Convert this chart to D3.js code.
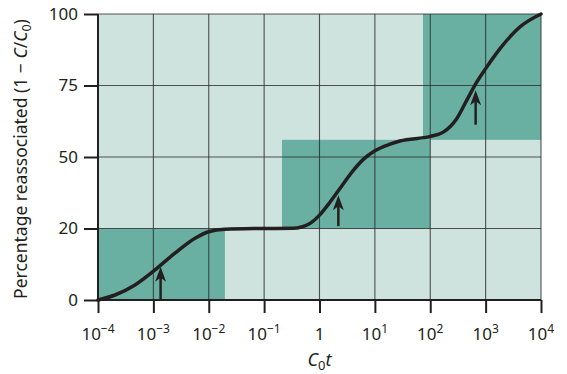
<!DOCTYPE html>
<meta charset="utf-8">
<style>
    html, body { margin: 0; background: #fff; }
    text { font-family: "Noto Sans", "Open Sans", sans-serif; fill: #231f20; }
    .grid line { stroke: #2b2b2b; stroke-width: 1.1; stroke-opacity: 0.8; }
</style>
<div id="chart"></div>
<script src="https://d3js.org/d3.v7.min.js"></script>
<script>
    // y ticks are evenly spaced in the figure even though the values are not
    var yTicks = [0, 20, 50, 75, 100];
    var xTicks = [-4, -3, -2, -1, 0, 1, 2, 3, 4];   // powers of ten

    // shaded blocks: [x0, x1, y0, y1]
    var blockX0 = [1e-4, 0.21, 74];
    var blockX1 = [0.0196, 100, 1e4];
    var blockY0 = [0, 20, 56];
    var blockY1 = [20, 56, 100];

    // reassociation curve
    var curveX = [1e-4, 2.03e-4, 4.66e-4, 1.03e-3, 2.45e-3, 5.65e-3, 0.01, 0.0196, 0.084, 0.33, 0.67,
                  1, 1.55, 2.34, 4.08, 6.18, 10, 18.8, 28.4, 100, 172, 300, 455, 690, 1000, 1820, 4170, 1e4];
    var curveY = [0, 1.4, 4.2, 8.2, 13.1, 17.3, 19.1, 19.8, 20, 20.1, 22.1,
                  25.6, 31.1, 36.8, 44.4, 49.0, 52.2, 54.5, 55.6, 57.2, 58.7, 63.4, 69.8, 76.2, 80.9, 87.9, 95.5, 100];

    // arrows: x position, tail and tip values
    var arrowX = [1.35e-3, 2.19, 660];
    var arrowFrom = [0, 21, 61.3];
    var arrowTo = [9.3, 34, 73.3];

    var width = 567, height = 374;
    var mLeft = 98, mRight = 541, mTop = 14, mBottom = 300;

    var svg = d3.select("#chart").append("svg")
        .attr("width", width)
        .attr("height", height);

    var x = d3.scaleLog().domain([1e-4, 1e4]).range([mLeft, mRight]);
    var step = (mBottom - mTop) / (yTicks.length - 1);
    var y = d3.scaleLinear()
        .domain(yTicks)
        .range(yTicks.map(function(d, i) { return mBottom - i * step; }));

    // background
    svg.append("rect")
        .attr("x", mLeft).attr("y", mTop)
        .attr("width", mRight - mLeft).attr("height", mBottom - mTop)
        .attr("fill", "#cee3de");

    // dark blocks
    svg.append("g").selectAll("rect")
        .data(blockX0)
        .enter().append("rect")
        .attr("x", function(d) { return x(d); })
        .attr("width", function(d, i) { return x(blockX1[i]) - x(d); })
        .attr("y", function(d, i) { return y(blockY1[i]); })
        .attr("height", function(d, i) { return y(blockY0[i]) - y(blockY1[i]); })
        .attr("fill", "#69b0a2");

    // grid
    var grid = svg.append("g").attr("class", "grid");
    grid.selectAll("line.v")
        .data(xTicks)
        .enter().append("line")
        .attr("class", "v")
        .attr("x1", function(d) { return x(Math.pow(10, d)); })
        .attr("x2", function(d) { return x(Math.pow(10, d)); })
        .attr("y1", mTop).attr("y2", mBottom);
    grid.selectAll("line.h")
        .data(yTicks)
        .enter().append("line")
        .attr("class", "h")
        .attr("x1", mLeft).attr("x2", mRight)
        .attr("y1", function(d) { return y(d); })
        .attr("y2", function(d) { return y(d); });

    // axes
    var yAxis = d3.axisLeft(y).tickValues(yTicks).tickSize(14).tickPadding(6);
    var gy = svg.append("g")
        .attr("transform", "translate(" + mLeft + ",0)")
        .call(yAxis);
    gy.select(".domain").remove();
    gy.selectAll(".tick line").attr("stroke", "#231f20").attr("stroke-width", 2);
    gy.selectAll(".tick text").style("font-size", "17px").attr("fill", "#231f20");

    var xAxis = d3.axisBottom(x)
        .tickValues(xTicks.map(function(d) { return Math.pow(10, d); }))
        .tickSize(13)
        .tickFormat("");
    var gx = svg.append("g")
        .attr("transform", "translate(0," + mBottom + ")")
        .call(xAxis);
    gx.select(".domain").remove();
    gx.selectAll(".tick line").attr("stroke", "#231f20").attr("stroke-width", 2);

    // x tick labels as 10 with superscript
    var xl = svg.append("g").selectAll("text")
        .data(xTicks)
        .enter().append("text")
        .attr("x", function(d) { return x(Math.pow(10, d)); })
        .attr("y", 340)
        .attr("text-anchor", "middle")
        .style("font-size", "17px");
    xl.each(function(d) {
        var t = d3.select(this);
        if (d === 0) { t.text("1"); return; }
        t.append("tspan").text("10");
        t.append("tspan")
            .attr("dy", -7)
            .style("font-size", "12px")
            .text(d < 0 ? "\u2212" + (-d) : d);
    });

    // axis lines
    svg.append("line")
        .attr("x1", mLeft).attr("x2", mLeft)
        .attr("y1", mTop).attr("y2", mBottom + 1)
        .attr("stroke", "#231f20").attr("stroke-width", 2);
    svg.append("line")
        .attr("x1", mLeft - 1).attr("x2", mRight)
        .attr("y1", mBottom).attr("y2", mBottom)
        .attr("stroke", "#231f20").attr("stroke-width", 2);

    // curve
    var line = d3.line()
        .x(function(d) { return x(d[0]); })
        .y(function(d) { return y(d[1]); })
        .curve(d3.curveMonotoneX);
    svg.append("path")
        .datum(curveX.map(function(d, i) { return [d, curveY[i]]; }))
        .attr("d", line)
        .attr("fill", "none")
        .attr("stroke", "#231f20")
        .attr("stroke-width", 3.5)
        .attr("stroke-linecap", "round");

    // arrows
    var arrows = svg.append("g").selectAll("g")
        .data(arrowX)
        .enter().append("g");
    arrows.append("line")
        .attr("x1", function(d) { return x(d); })
        .attr("x2", function(d) { return x(d); })
        .attr("y1", function(d, i) { return y(arrowFrom[i]); })
        .attr("y2", function(d, i) { return y(arrowTo[i]) + 8; })
        .attr("stroke", "#231f20")
        .attr("stroke-width", 2.5);
    arrows.append("path")
        .attr("d", function(d, i) {
            var px = x(d), py = y(arrowTo[i]);
            return "M" + px + "," + py + "L" + (px + 5.5) + "," + (py + 15) +
                "L" + px + "," + (py + 11) + "L" + (px - 5.5) + "," + (py + 15) + "Z";
        })
        .attr("fill", "#231f20");

    // axis titles
    var yt = svg.append("text")
        .attr("transform", "translate(27,159) rotate(-90)")
        .attr("text-anchor", "middle")
        .style("font-size", "17.5px");
    yt.append("tspan").text("Percentage reassociated (1 \u2212 ");
    yt.append("tspan").style("font-style", "italic").text("C");
    yt.append("tspan").text("/");
    yt.append("tspan").style("font-style", "italic").text("C");
    yt.append("tspan").attr("dy", 4).style("font-size", "12.5px").text("0");
    yt.append("tspan").attr("dy", -4).text(")");

    var xt = svg.append("text")
        .attr("x", x(1))
        .attr("y", 366)
        .attr("text-anchor", "middle")
        .style("font-size", "18px");
    xt.append("tspan").style("font-style", "italic").text("C");
    xt.append("tspan").attr("dy", 4).style("font-size", "13px").text("0");
    xt.append("tspan").attr("dy", -4).style("font-style", "italic").text("t");
</script>
